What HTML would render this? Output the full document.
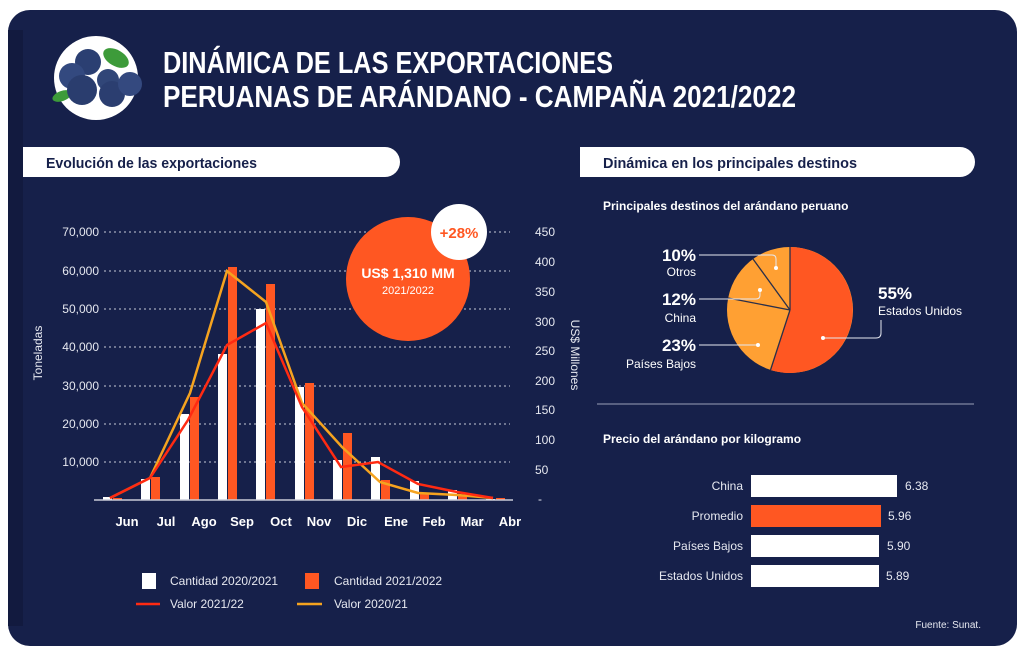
<!DOCTYPE html>
<html><head><meta charset="utf-8"><style>
html,body{margin:0;padding:0;background:#fff;}
svg{display:block;font-family:"Liberation Sans",sans-serif;}
</style></head><body>
<svg width="1024" height="654" viewBox="0 0 1024 654" xmlns="http://www.w3.org/2000/svg">
<rect x="8" y="10" width="1009" height="636" rx="22" fill="#16204a"/>
<rect x="8" y="30" width="15" height="596" fill="#121a3f"/>
<!-- berry icon -->
<circle cx="96" cy="78" r="42" fill="#fff"/>
<ellipse cx="116" cy="58" rx="14" ry="8" fill="#3d9b3a" transform="rotate(30 116 58)"/>
<ellipse cx="62" cy="96" rx="10" ry="5" fill="#3d9b3a" transform="rotate(-20 62 96)"/>
<circle cx="88" cy="62" r="13" fill="#2b3f72"/>
<circle cx="72" cy="76" r="13" fill="#33497f"/>
<circle cx="82" cy="90" r="15" fill="#2a3d6e"/>
<circle cx="108" cy="80" r="11" fill="#314678"/>
<circle cx="112" cy="94" r="13" fill="#2b3e70"/>
<circle cx="130" cy="84" r="12" fill="#34497f"/>
<text x="163" y="73" font-size="31" font-weight="bold" fill="#fff" textLength="450" lengthAdjust="spacingAndGlyphs">DINÁMICA DE LAS EXPORTACIONES</text>
<text x="163" y="107" font-size="31" font-weight="bold" fill="#fff" textLength="633" lengthAdjust="spacingAndGlyphs">PERUANAS DE ARÁNDANO - CAMPAÑA 2021/2022</text>
<!-- section pills -->
<path d="M23 147 H385 a15 15 0 0 1 0 30 H23 Z" fill="#fff"/>
<text x="46" y="168" font-size="15" font-weight="bold" fill="#16204a" textLength="211" lengthAdjust="spacingAndGlyphs">Evolución de las exportaciones</text>
<path d="M580 147 H960 a15 15 0 0 1 0 30 H580 Z" fill="#fff"/>
<text x="603" y="168" font-size="15" font-weight="bold" fill="#16204a" textLength="254" lengthAdjust="spacingAndGlyphs">Dinámica en los principales destinos</text>
<!-- grid -->
<g stroke="#c8cbd8" stroke-width="1" stroke-dasharray="2 3">
<line x1="104" y1="232" x2="510" y2="232"/><line x1="104" y1="271" x2="510" y2="271"/>
<line x1="104" y1="309" x2="510" y2="309"/><line x1="104" y1="347" x2="510" y2="347"/>
<line x1="104" y1="386" x2="510" y2="386"/><line x1="104" y1="424" x2="510" y2="424"/>
<line x1="104" y1="462" x2="510" y2="462"/>
</g>
<g font-size="12" fill="#e6e8f0" text-anchor="end">
<text x="99" y="236">70,000</text><text x="99" y="275">60,000</text><text x="99" y="313">50,000</text>
<text x="99" y="351">40,000</text><text x="99" y="390">30,000</text><text x="99" y="428">20,000</text><text x="99" y="466">10,000</text>
</g>
<g font-size="12" fill="#e6e8f0">
<text x="535" y="236">450</text><text x="535" y="266">400</text><text x="535" y="296">350</text><text x="535" y="326">300</text>
<text x="535" y="355">250</text><text x="535" y="385">200</text><text x="535" y="414">150</text><text x="535" y="444">100</text>
<text x="535" y="474">50</text><text x="538" y="503">-</text>
</g>
<text transform="translate(42 353) rotate(-90)" font-size="12" fill="#e6e8f0" text-anchor="middle">Toneladas</text>
<text transform="translate(571 355) rotate(90)" font-size="12" fill="#e6e8f0" text-anchor="middle">US$ Millones</text>
<!-- bars -->
<g fill="#fff">
<rect x="103" y="497" width="9" height="3"/><rect x="141" y="479" width="9" height="21"/>
<rect x="180" y="414" width="9" height="86"/><rect x="218" y="354" width="9" height="146"/>
<rect x="256" y="309" width="9" height="191"/><rect x="295" y="387" width="9" height="113"/>
<rect x="333" y="460" width="9" height="40"/><rect x="371" y="457" width="9" height="43"/>
<rect x="410" y="481" width="9" height="19"/><rect x="448" y="490" width="9" height="10"/>
<rect x="486" y="499" width="9" height="1"/>
</g>
<g fill="#ff5722">
<rect x="113" y="498" width="9" height="2"/><rect x="151" y="477" width="9" height="23"/>
<rect x="190" y="397" width="9" height="103"/><rect x="228" y="267" width="9" height="233"/>
<rect x="266" y="284" width="9" height="216"/><rect x="305" y="383" width="9" height="117"/>
<rect x="343" y="433" width="9" height="67"/><rect x="381" y="480" width="9" height="20"/>
<rect x="420" y="494" width="9" height="6"/><rect x="458" y="496" width="9" height="4"/>
<rect x="496" y="498" width="9" height="2"/>
</g>
<line x1="94" y1="500" x2="513" y2="500" stroke="#c8cbd8" stroke-width="1.5"/>
<polyline fill="none" stroke="#f5a31f" stroke-width="2.5" points="110,498 150,478 190,393 227,271 266,302 302,403 342,447 380,482 418,493 457,495 493,498"/>
<polyline fill="none" stroke="#ff2a12" stroke-width="2.5" points="110,498 150,478 188,420 227,345 266,323 302,407 341,467 378,462 418,484 457,492 493,498"/>
<g font-size="13" font-weight="bold" fill="#fff" text-anchor="middle">
<text x="127" y="526">Jun</text><text x="166" y="526">Jul</text><text x="204" y="526">Ago</text><text x="242" y="526">Sep</text>
<text x="281" y="526">Oct</text><text x="319" y="526">Nov</text><text x="357" y="526">Dic</text><text x="396" y="526">Ene</text>
<text x="434" y="526">Feb</text><text x="472" y="526">Mar</text><text x="510" y="526">Abr</text>
</g>
<!-- circle -->
<circle cx="408" cy="279" r="62" fill="#ff5722"/>
<circle cx="459" cy="232" r="28" fill="#fff"/>
<text x="459" y="238" font-size="15" font-weight="bold" fill="#ff5722" text-anchor="middle">+28%</text>
<text x="408" y="278" font-size="14" font-weight="bold" fill="#fff" text-anchor="middle">US$ 1,310 MM</text>
<text x="408" y="294" font-size="11" fill="#fff" text-anchor="middle">2021/2022</text>
<!-- legend -->
<rect x="142" y="573" width="14" height="16" fill="#fff"/>
<text x="170" y="585" font-size="12" fill="#e6e8f0">Cantidad 2020/2021</text>
<rect x="305" y="573" width="14" height="16" fill="#ff5722"/>
<text x="334" y="585" font-size="12" fill="#e6e8f0">Cantidad 2021/2022</text>
<line x1="136" y1="604" x2="160" y2="604" stroke="#ff2a12" stroke-width="2.5"/>
<text x="170" y="608" font-size="12" fill="#e6e8f0">Valor 2021/22</text>
<line x1="297" y1="604" x2="322" y2="604" stroke="#f5a31f" stroke-width="2.5"/>
<text x="334" y="608" font-size="12" fill="#e6e8f0">Valor 2020/21</text>
<!-- pie -->
<text x="603" y="210" font-size="12" font-weight="bold" fill="#fff">Principales destinos del arándano peruano</text>
<circle cx="790" cy="310" r="63" fill="#ffa033"/>
<path d="M790 310 L790 247 A63 63 0 1 1 770.5 370 Z" fill="#ff5722"/>
<g stroke="#2a2f4a" stroke-width="1.3">
<line x1="790" y1="310" x2="790" y2="247"/><line x1="790" y1="310" x2="770.5" y2="370"/>
<line x1="790" y1="310" x2="728" y2="298"/><line x1="790" y1="310" x2="753" y2="259"/>
</g>
<g fill="none" stroke="#e6e8f0" stroke-width="1">
<path d="M699 255 H772 q4 0 4 4 V268"/>
<path d="M699 299 H756 q4 0 4 -4 V290"/>
<path d="M699 345 H758"/>
<path d="M823 338 H876 q5 0 5 -5 V320"/>
</g>
<g fill="#fff"><circle cx="776" cy="268" r="2"/><circle cx="760" cy="290" r="2"/><circle cx="758" cy="345" r="2"/><circle cx="823" cy="338" r="2"/></g>
<g fill="#fff" text-anchor="end">
<text x="696" y="261" font-size="17" font-weight="bold">10%</text>
<text x="696" y="276" font-size="12">Otros</text>
<text x="696" y="305" font-size="17" font-weight="bold">12%</text>
<text x="696" y="322" font-size="12">China</text>
<text x="696" y="351" font-size="17" font-weight="bold">23%</text>
<text x="696" y="368" font-size="12">Países Bajos</text>
</g>
<text x="878" y="299" font-size="17" font-weight="bold" fill="#fff">55%</text>
<text x="878" y="315" font-size="12" fill="#fff">Estados Unidos</text>
<line x1="597" y1="404" x2="974" y2="404" stroke="#9aa0b8" stroke-width="1"/>
<!-- price bars -->
<text x="603" y="443" font-size="12" font-weight="bold" fill="#fff">Precio del arándano por kilogramo</text>
<rect x="751" y="475" width="146" height="22" fill="#fff"/>
<rect x="751" y="505" width="130" height="22" fill="#ff5722"/>
<rect x="751" y="535" width="128" height="22" fill="#fff"/>
<rect x="751" y="565" width="128" height="22" fill="#fff"/>
<g font-size="12" fill="#e6e8f0" text-anchor="end">
<text x="743" y="490">China</text><text x="743" y="520">Promedio</text><text x="743" y="550">Países Bajos</text><text x="743" y="580">Estados Unidos</text>
</g>
<g font-size="12" fill="#e6e8f0">
<text x="905" y="490">6.38</text><text x="888" y="520">5.96</text><text x="887" y="550">5.90</text><text x="886" y="580">5.89</text>
</g>
<text x="981" y="628" font-size="10" fill="#e6e8f0" text-anchor="end">Fuente: Sunat.</text>
</svg>
</body></html>
